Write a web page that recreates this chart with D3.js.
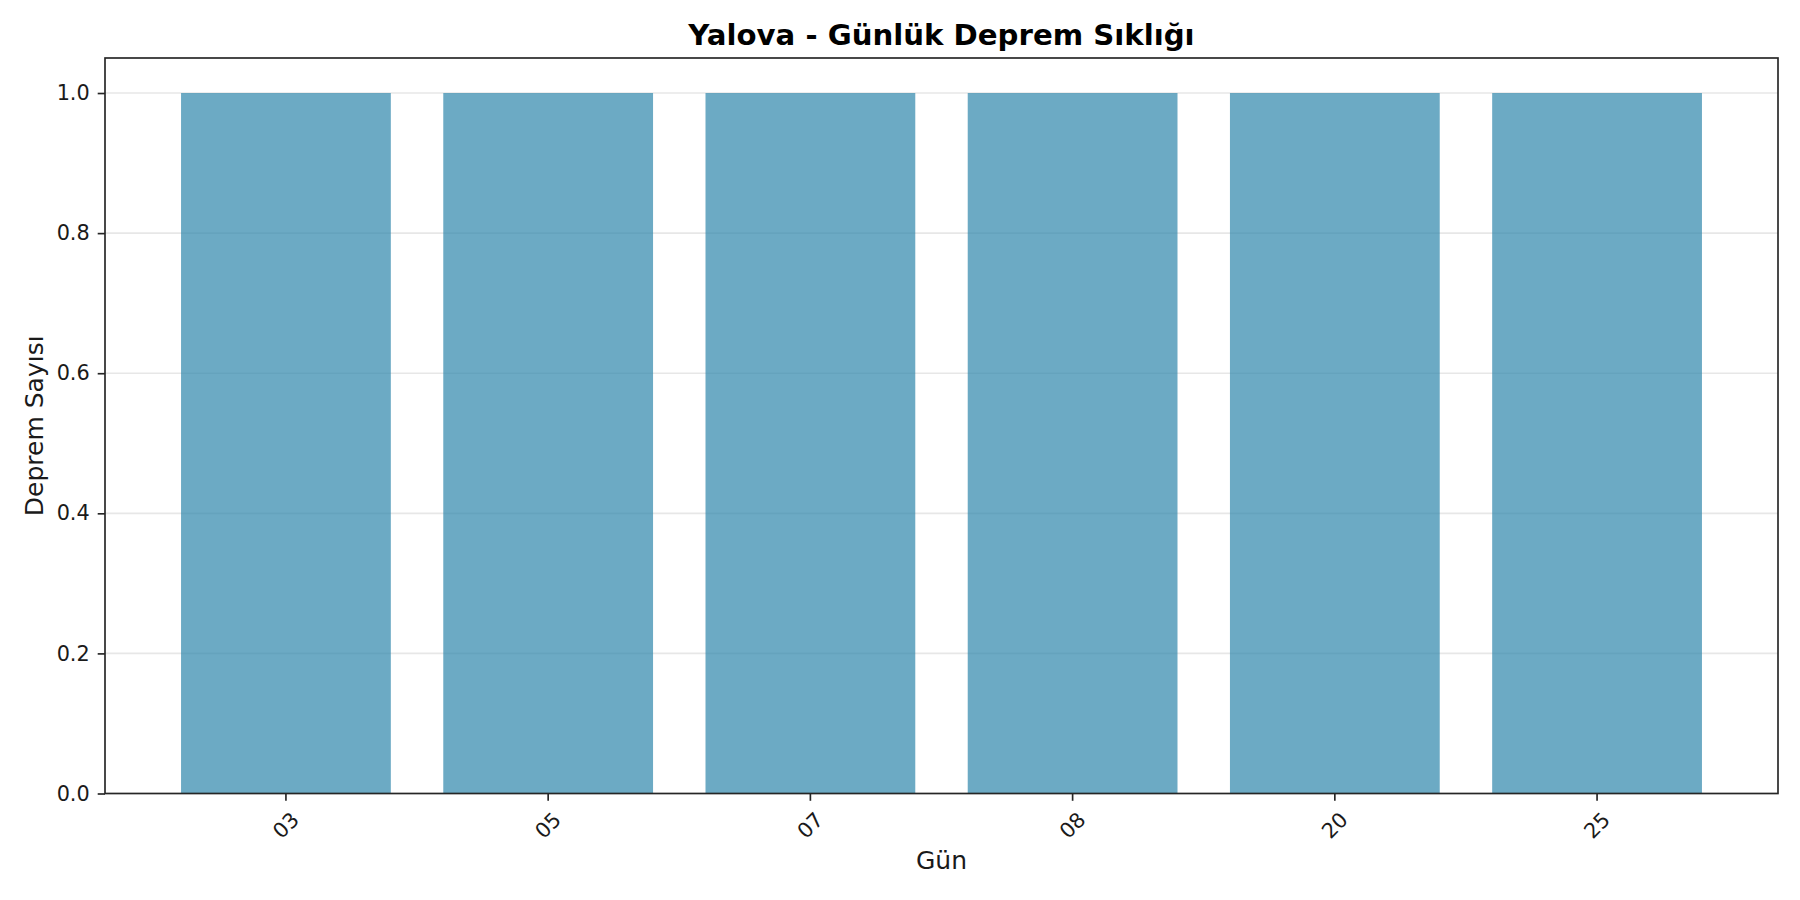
<!DOCTYPE html>
<html>
<head>
<meta charset="utf-8">
<script src="https://cdn.jsdelivr.net/npm/d3@7"></script>
<style>
  html, body { margin: 0; padding: 0; background: #fff; }
  svg { display: block; font-family: "DejaVu Sans", sans-serif; }
</style>
</head>
<body>
<div id="chart"></div>
<script>
// Data
var days = ["03", "05", "07", "08", "20", "25"];
var counts = [1, 1, 1, 1, 1, 1];
var yTicks = [0, 0.2, 0.4, 0.6, 0.8, 1.0];

var width = 1800,
  height = 900;
var margin = { top: 58, right: 22, bottom: 106.5, left: 105 };

var data = days.map((d, i) => ({ label: d, value: counts[i] }));

var svg = d3
  .select("#chart")
  .append("svg")
  .attr("width", width)
  .attr("height", height);

// matplotlib style: bars 0.8 wide, 5% margins on x
var xScale = d3
  .scaleBand()
  .domain(days)
  .range([margin.left, width - margin.right])
  .paddingInner(0.2)
  .paddingOuter(0.29);

var yScale = d3
  .scaleLinear()
  .domain([0, 1.05])
  .range([height - margin.bottom, margin.top]);

// horizontal grid
svg
  .append("g")
  .selectAll("line")
  .data(yTicks)
  .join("line")
  .attr("x1", margin.left)
  .attr("x2", width - margin.right)
  .attr("y1", (d) => yScale(d))
  .attr("y2", (d) => yScale(d))
  .attr("stroke", "#b0b0b0")
  .attr("stroke-opacity", 0.3)
  .attr("stroke-width", 1.67);

// bars
svg
  .append("g")
  .attr("fill", "#2E86AB")
  .attr("fill-opacity", 0.7)
  .selectAll("rect")
  .data(data)
  .join("rect")
  .attr("x", (d) => xScale(d.label))
  .attr("y", (d) => yScale(d.value))
  .attr("width", xScale.bandwidth())
  .attr("height", (d) => yScale(0) - yScale(d.value));

// x axis
var xAxis = svg
  .append("g")
  .attr("transform", `translate(0,${height - margin.bottom})`)
  .call(d3.axisBottom(xScale).tickSize(7.3).tickSizeOuter(0));
xAxis.select(".domain").remove();
xAxis.selectAll(".tick line").attr("stroke", "#262626").attr("stroke-width", 1.67);
xAxis
  .selectAll(".tick text")
  .attr("fill", "#1a1a1a")
  .attr("font-size", 20.8)
  .attr("font-family", "DejaVu Sans")
  .attr("y", 0)
  .attr("dy", 0)
  .attr("text-anchor", "middle")
  .attr("dominant-baseline", "central")
  .attr("transform", "translate(0,32) rotate(-45)");

// y axis
var yAxis = svg
  .append("g")
  .attr("transform", `translate(${margin.left},0)`)
  .call(
    d3
      .axisLeft(yScale)
      .tickValues(yTicks)
      .tickFormat(d3.format(".1f"))
      .tickSize(7.3)
      .tickPadding(8)
  );
yAxis.select(".domain").remove();
yAxis.selectAll(".tick line").attr("stroke", "#262626").attr("stroke-width", 1.67);
yAxis
  .selectAll(".tick text")
  .attr("fill", "#1a1a1a")
  .attr("font-size", 20.8)
  .attr("font-family", "DejaVu Sans");

// axes frame
svg
  .append("rect")
  .attr("x", margin.left)
  .attr("y", margin.top)
  .attr("width", width - margin.left - margin.right)
  .attr("height", height - margin.top - margin.bottom)
  .attr("fill", "none")
  .attr("stroke", "#262626")
  .attr("stroke-width", 1.67);

// title and labels
var cx = (margin.left + width - margin.right) / 2;
svg
  .append("text")
  .attr("x", cx)
  .attr("y", 45)
  .attr("text-anchor", "middle")
  .attr("font-size", 29.2)
  .attr("font-weight", "bold")
  .attr("fill", "#000")
  .text("Yalova - Günlük Deprem Sıklığı");

svg
  .append("text")
  .attr("x", cx)
  .attr("y", 869)
  .attr("text-anchor", "middle")
  .attr("font-size", 25)
  .attr("fill", "#1a1a1a")
  .text("Gün");

svg
  .append("text")
  .attr("transform", `translate(43,${(margin.top + height - margin.bottom) / 2}) rotate(-90)`)
  .attr("text-anchor", "middle")
  .attr("font-size", 25)
  .attr("fill", "#1a1a1a")
  .text("Deprem Sayısı");
</script>
</body>
</html>
